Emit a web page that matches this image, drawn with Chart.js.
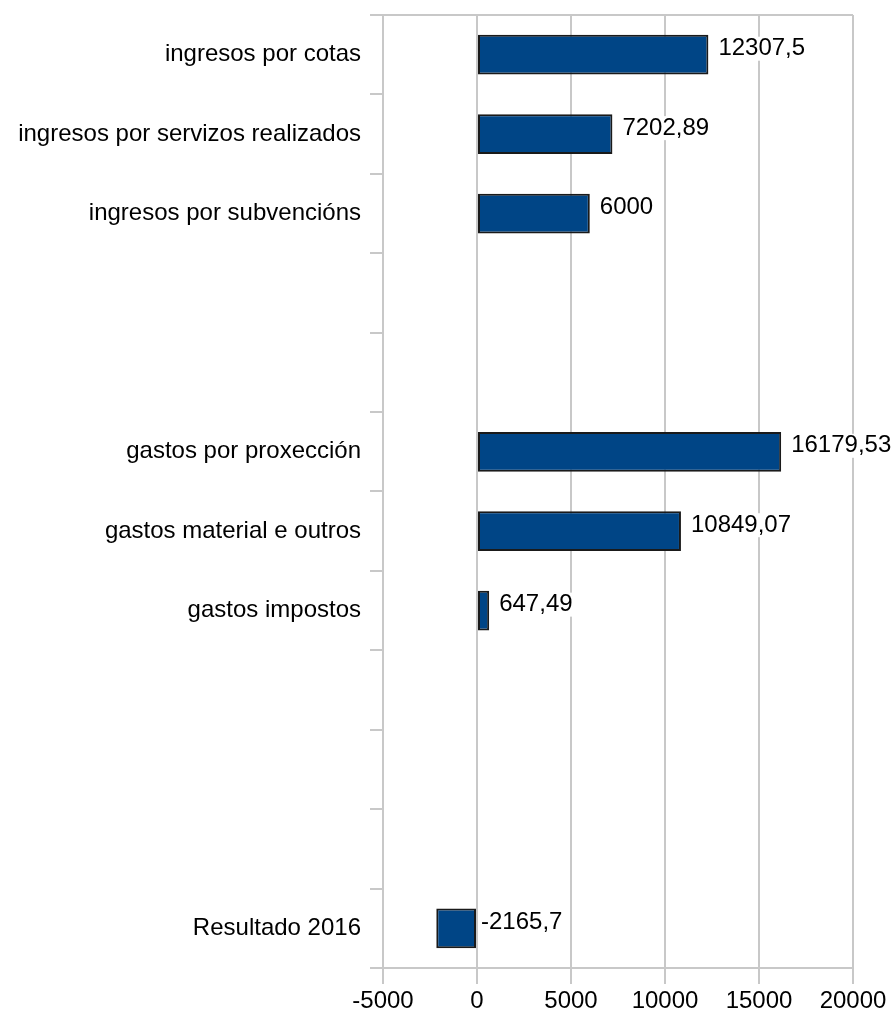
<!DOCTYPE html>
<html>
<head>
<meta charset="utf-8">
<script src="https://cdn.jsdelivr.net/npm/chart.js@4.4.0/dist/chart.umd.min.js"></script>
<style>
  html, body { margin: 0; padding: 0; background: #fff; }
  #wrap { width: 896px; height: 1016px; }
</style>
</head>
<body>
<div id="wrap"><canvas id="resultChart" width="896" height="1016"></canvas></div>
<script>
// Chart data (blank rows are spacers between groups)
const categories = [
    'ingresos por cotas',
    'ingresos por servizos realizados',
    'ingresos por subvencións',
    '',
    '',
    'gastos por proxección',
    'gastos material e outros',
    'gastos impostos',
    '',
    '',
    '',
    'Resultado 2016'
];
const amounts = [12307.5, 7202.89, 6000, null, null, 16179.53, 10849.07, 647.49, null, null, null, -2165.7];
const xTicks = [-5000, 0, 5000, 10000, 15000, 20000];

const gridColor = '#c8c8c8';
const fontFamily = '"Liberation Sans", Arial, sans-serif';

const formatValue = (v) => String(v).replace('.', ',');

// Draws the value next to each bar on a white box
const valueLabels = {
    id: 'valueLabels',
    afterDatasetsDraw(chart) {
        const { ctx } = chart;
        const meta = chart.getDatasetMeta(0);
        ctx.save();
        ctx.font = '24px ' + fontFamily;
        ctx.textBaseline = 'middle';
        ctx.textAlign = 'left';
        meta.data.forEach((bar, i) => {
            const v = amounts[i];
            if (v === null || v === undefined) return;
            const text = formatValue(v);
            const right = Math.max(bar.x, bar.base);
            const x = right + (v < 0 ? 5 : 10);
            const y = bar.y - 6;
            const w = ctx.measureText(text).width;
            ctx.fillStyle = '#fff';
            ctx.fillRect(x - 1, y - 12, w + 2, 24);
            ctx.fillStyle = '#000';
            ctx.fillText(text, x, y);
        });
        ctx.restore();
    }
};

const ctx = document.getElementById('resultChart').getContext('2d');
new Chart(ctx, {
    type: 'bar',
    data: {
        labels: categories,
        datasets: [{
            data: amounts,
            backgroundColor: '#004586',
            borderColor: '#1a1a1a',
            borderWidth: 2,
            borderSkipped: false,
            barPercentage: 0.5,
            categoryPercentage: 1
        }]
    },
    options: {
        indexAxis: 'y',
        responsive: false,
        animation: false,
        layout: { padding: { top: 15, right: 43, left: 0, bottom: 0 } },
        plugins: {
            legend: { display: false },
            tooltip: { enabled: false }
        },
        scales: {
            x: {
                min: xTicks[0],
                max: xTicks[xTicks.length - 1],
                afterBuildTicks: (scale) => { scale.ticks = xTicks.map(v => ({ value: v })); },
                afterFit: (scale) => { scale.height = 48; },
                grid: { color: gridColor, lineWidth: 2, tickLength: 16 },
                border: { display: true, color: gridColor, width: 2 },
                ticks: {
                    color: '#000',
                    padding: 3,
                    font: { family: fontFamily, size: 24 },
                    callback: (value) => String(value)
                }
            },
            y: {
                offset: true,
                afterFit: (scale) => {
                    scale.width = 383;
                    scale.paddingTop = 0;
                    scale.paddingBottom = 0;
                },
                grid: {
                    offset: true,
                    lineWidth: 2,
                    tickLength: 13,
                    tickColor: gridColor,
                    color: (c) => (c.index === 0 ? gridColor : 'transparent')
                },
                border: { display: true, color: gridColor, width: 2 },
                ticks: {
                    color: '#000',
                    padding: 9,
                    font: { family: fontFamily, size: 24 }
                }
            }
        }
    },
    plugins: [valueLabels]
});
</script>
</body>
</html>
